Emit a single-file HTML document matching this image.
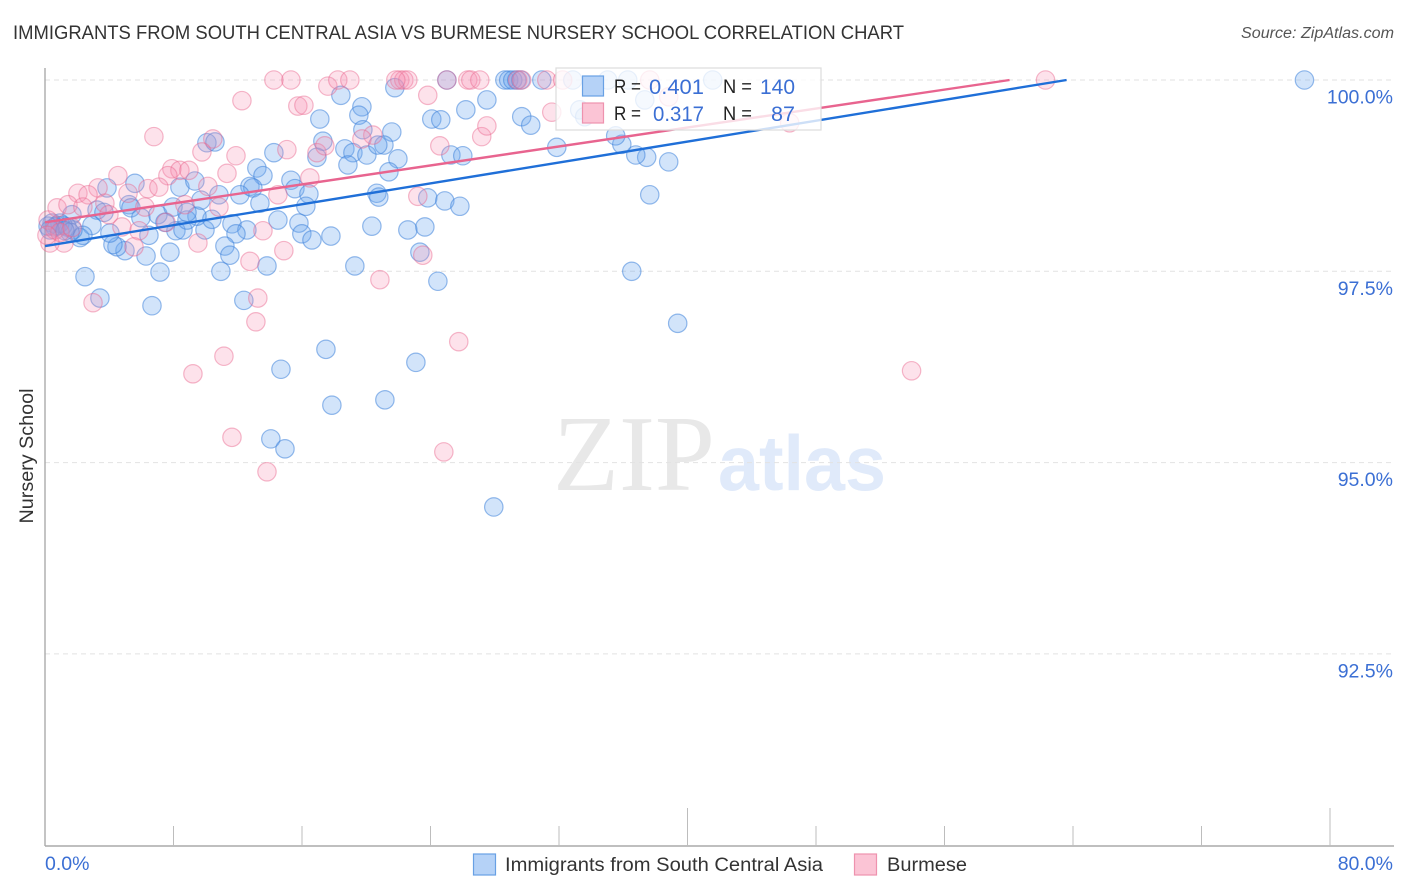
<!DOCTYPE html>
<html lang="en">
<head>
<meta charset="utf-8">
<title>Immigrants from South Central Asia vs Burmese Nursery School Correlation Chart</title>
<style>
html,body{margin:0;padding:0;background:#fff;}
svg{display:block;font-family:"Liberation Sans",sans-serif;}
</style>
</head>
<body>
<svg id="chart" width="1406" height="892" viewBox="0 0 1406 892" xmlns="http://www.w3.org/2000/svg">
  <text x="13" y="39" font-size="19" fill="#333" textLength="891" lengthAdjust="spacingAndGlyphs">IMMIGRANTS FROM SOUTH CENTRAL ASIA VS BURMESE NURSERY SCHOOL CORRELATION CHART</text>
  <text x="1241" y="38" font-size="15.5" font-style="italic" fill="#555" textLength="153" lengthAdjust="spacingAndGlyphs">Source: ZipAtlas.com</text>
  <g>
    <text x="553" y="490" font-family="'Liberation Serif',serif" font-size="108" fill="#e8e8e8" textLength="162" lengthAdjust="spacingAndGlyphs">ZIP</text>
    <text x="718" y="490" font-size="78" font-weight="bold" fill="#e0eafa" textLength="168" lengthAdjust="spacingAndGlyphs">atlas</text>
  </g>
  <g id="grid"></g>
  <g id="axes"></g>
  <g id="blue-points"></g>
  <g id="pink-points"></g>
  <g id="trends"></g>
  <text transform="translate(33,456) rotate(-90)" font-size="19" fill="#333" text-anchor="middle" textLength="135" lengthAdjust="spacingAndGlyphs">Nursery School</text>
  <g>
    <rect x="556" y="68" width="265" height="62" fill="#fff" fill-opacity="0.78" stroke="#dcdcdc" stroke-width="1.2"/>
    <rect x="582.5" y="76" width="21" height="20" fill="#b5d2f7" stroke="#68a0e4" stroke-width="1.2"/>
    <rect x="582.5" y="103" width="21" height="20" fill="#fbc4d5" stroke="#ee92ae" stroke-width="1.2"/>
    <g font-size="19" fill="#222">
      <text x="614" y="93" textLength="27" lengthAdjust="spacingAndGlyphs">R =</text>
      <text x="723" y="93" textLength="29" lengthAdjust="spacingAndGlyphs">N =</text>
      <text x="614" y="120" textLength="27" lengthAdjust="spacingAndGlyphs">R =</text>
      <text x="723" y="120" textLength="29" lengthAdjust="spacingAndGlyphs">N =</text>
    </g>
    <g font-size="21" fill="#3b6fd4">
      <text x="649" y="94" textLength="55" lengthAdjust="spacingAndGlyphs">0.401</text>
      <text x="760" y="94" textLength="35" lengthAdjust="spacingAndGlyphs">140</text>
      <text x="653" y="121" textLength="51" lengthAdjust="spacingAndGlyphs">0.317</text>
      <text x="771" y="121" textLength="24" lengthAdjust="spacingAndGlyphs">87</text>
    </g>
  </g>
  <g>
    <rect x="473.5" y="854" width="22" height="21" fill="#b5d2f7" stroke="#68a0e4" stroke-width="1.2"/>
    <text x="505" y="871" font-size="19" fill="#333" textLength="318" lengthAdjust="spacingAndGlyphs">Immigrants from South Central Asia</text>
    <rect x="854.5" y="854" width="22" height="21" fill="#fbc4d5" stroke="#ee92ae" stroke-width="1.2"/>
    <text x="887" y="871" font-size="19" fill="#333" textLength="80" lengthAdjust="spacingAndGlyphs">Burmese</text>
  </g>
</svg>
<script>
const yTickValues = [100, 97.5, 95, 92.5];
const yTickLabels = ["100.0%", "97.5%", "95.0%", "92.5%"];
const xTickValues = [0, 8, 16, 24, 32, 40, 48, 56, 64, 72, 80];
const xMajorTicks = [40, 80];
const xEndLabels = ["0.0%", "80.0%"];

const immigrantsX = [25.02,28.63,28.87,29.12,29.37,29.62,30.93,32.86,35.03,36.28,41.57,78.41,37.34,33.29,33.60,21.78,24.08,24.64,26.20,27.51,29.68,30.24,21.59,21.10,21.97,21.41,20.66,20.78,23.83,24.89,25.83,22.59,23.65,23.34,24.46,36.53,37.65,38.83,37.46,36.78,35.91,35.53,31.86,25.27,26.01,39.39,23.09,21.16,27.94,17.86,17.49,14.69,14.06,14.94,18.42,19.73,19.54,17.11,19.79,17.30,18.67,19.17,20.04,18.86,16.93,20.72,14.25,10.08,10.58,13.19,13.57,15.31,15.56,16.43,16.24,12.76,12.94,12.13,13.38,14.50,15.81,15.99,16.62,17.80,20.35,11.64,12.57,11.89,11.20,11.51,10.95,13.82,19.29,12.38,6.66,3.42,2.49,7.16,6.29,7.78,4.98,4.48,4.23,6.47,8.15,8.59,9.96,10.39,9.46,8.84,5.60,3.86,8.40,9.33,9.71,10.83,5.23,5.35,5.97,7.03,7.97,7.47,8.84,3.24,3.67,1.68,2.92,4.04,2.18,2.36,1.74,1.12,0.75,0.44,0.93,0.62,1.37,0.19,0.31,1.56,1.24];
const immigrantsY = [100,100,100,100,100,100,100,100,100,100,100,100,99.74,99.61,99.52,99.90,99.49,99.48,99.61,99.74,99.52,99.41,99.32,99.15,98.97,98.80,98.52,98.47,98.46,98.42,98.35,98.04,98.08,97.75,97.37,97.50,98.50,98.93,98.99,99.02,99.16,99.27,99.12,99.02,99.01,96.82,96.31,95.82,94.42,95.75,96.48,96.22,95.31,95.18,99.80,99.65,99.54,99.49,99.35,99.20,99.10,99.05,99.02,98.89,98.99,99.15,99.05,99.18,99.19,98.85,98.75,98.69,98.58,98.51,98.35,98.61,98.59,98.50,98.39,98.17,98.13,97.99,97.91,97.96,98.09,98.12,98.04,97.99,97.83,97.71,97.50,97.57,97.57,97.12,97.05,97.15,97.43,97.49,97.70,97.75,97.77,97.82,97.85,97.97,98.03,98.04,98.04,98.18,98.22,98.17,98.65,98.59,98.60,98.68,98.43,98.50,98.37,98.33,98.20,98.24,98.34,98.14,98.27,98.30,98.27,98.24,98.10,98.00,97.94,97.97,98.04,98.10,98.10,98.13,98.13,98.08,98.08,98.09,98.04,98.01,98.03];

const burmeseX = [14.25,15.31,17.61,18.23,18.98,12.26,15.74,16.12,6.78,20.41,19.73,10.45,9.77,11.89,15.06,16.93,17.42,11.33,16.49,4.54,7.90,8.40,8.96,7.65,2.05,3.30,2.68,5.17,6.41,7.09,10.14,14.50,3.73,6.22,10.83,8.71,0.75,1.43,2.36,3.98,4.79,5.85,7.53,13.57,9.52,5.54,14.87,12.76,1.18,0.31,2.99,13.25,20.85,13.13,11.14,9.21,11.64,13.82,24.83,25.76,53.95,62.29,23.52,23.21,23.83,24.58,27.19,27.51,22.09,22.34,22.59,21.84,25.02,26.32,26.51,27.07,29.43,29.68,31.24,32.23,37.65,38.83,31.55,46.36,0.19,0.62,0.93,0.12,1.68];
const burmeseY = [100,100,99.92,100,100,99.73,99.66,99.67,99.26,99.28,99.23,99.23,99.06,99.01,99.09,99.05,99.14,98.78,98.72,98.75,98.84,98.82,98.82,98.75,98.52,98.59,98.50,98.52,98.58,98.60,98.61,98.50,98.39,98.34,98.34,98.37,98.33,98.37,98.34,98.24,98.08,98.03,98.14,98.03,97.87,97.82,97.77,97.63,97.87,97.87,97.09,97.15,97.39,96.84,96.39,96.16,95.33,94.88,95.14,96.58,96.20,100,97.71,98.48,99.80,99.14,99.26,99.40,100,100,100,100,100,100,100,100,100,100,100,100,100,99.78,99.58,99.44,98.17,98.04,98.01,97.97,98.07];

const immigrantsTrendX = [0, 63.6];
const immigrantsTrendY = [97.83, 100];
const burmeseTrendX = [0, 60.05];
const burmeseTrendY = [98.14, 100];

const SVG_NS = "http://www.w3.org/2000/svg";
function xScale(v) { return 45 + v * (1285 / 80); }
function yScale(v) { return 80 + (100 - v) * (191.3 / 2.5); }
function make(tag, attrs, parent) {
  const el = document.createElementNS(SVG_NS, tag);
  for (const k in attrs) el.setAttribute(k, attrs[k]);
  parent.appendChild(el);
  return el;
}

const grid = document.getElementById("grid");
const axes = document.getElementById("axes");

yTickValues.forEach(function (v, i) {
  const y = yScale(v);
  const line = make("line", {x1: 45, x2: 1394, y1: y, y2: y, stroke: "#e2e2e2", "stroke-width": 1, "stroke-dasharray": "5 4"}, grid);
  
  
  const label = make("text", {x: 1393, y: y + 23.5, "font-size": 19.5, fill: "#3b6fd4", "text-anchor": "end"}, axes);
  label.textContent = yTickLabels[i];
  
  
});

const yAxisLine = make("line", {x1: 45, x2: 45, y1: 68, y2: 846, stroke: "#aaaaaa", "stroke-width": 1.4}, axes);


const xAxisLine = make("line", {x1: 45, x2: 1394, y1: 846, y2: 846, stroke: "#aaaaaa", "stroke-width": 1.4}, axes);



xTickValues.forEach(function (v) {
  if (v === 0) return;
  const x = xScale(v);
  const top = xMajorTicks.indexOf(v) >= 0 ? 808 : 826;
  const tick = make("line", {x1: x, x2: x, y1: top, y2: 846, stroke: "#bdbdbd", "stroke-width": 1}, axes);
  
  
});

const xLabelStart = make("text", {x: xScale(xTickValues[0]), y: 870, "font-size": 19.5, fill: "#3b6fd4"}, axes);
xLabelStart.textContent = xEndLabels[0];


const xLabelEnd = make("text", {x: 1393, y: 870, "font-size": 19.5, fill: "#3b6fd4", "text-anchor": "end"}, axes);
xLabelEnd.textContent = xEndLabels[1];



const bluePoints = document.getElementById("blue-points");
immigrantsX.forEach(function (v, i) {
  const c = make("circle", {cx: xScale(v), cy: yScale(immigrantsY[i]), r: 9.2, fill: "#6aa6f0", "fill-opacity": 0.3, stroke: "#3f83da", "stroke-opacity": 0.55, "stroke-width": 1.2}, bluePoints);
  
  
});

const pinkPoints = document.getElementById("pink-points");
burmeseX.forEach(function (v, i) {
  const c = make("circle", {cx: xScale(v), cy: yScale(burmeseY[i]), r: 9.2, fill: "#f78fb0", "fill-opacity": 0.26, stroke: "#e8648c", "stroke-opacity": 0.45, "stroke-width": 1.2}, pinkPoints);
  
  
});

const trends = document.getElementById("trends");
const burmeseLine = make("line", {x1: xScale(burmeseTrendX[0]), y1: yScale(burmeseTrendY[0]), x2: xScale(burmeseTrendX[1]), y2: yScale(burmeseTrendY[1]), stroke: "#e8648f", "stroke-width": 2.4}, trends);


const immigrantsLine = make("line", {x1: xScale(immigrantsTrendX[0]), y1: yScale(immigrantsTrendY[0]), x2: xScale(immigrantsTrendX[1]), y2: yScale(immigrantsTrendY[1]), stroke: "#1f6fd8", "stroke-width": 2.4}, trends);


</script>
</body>
</html>
